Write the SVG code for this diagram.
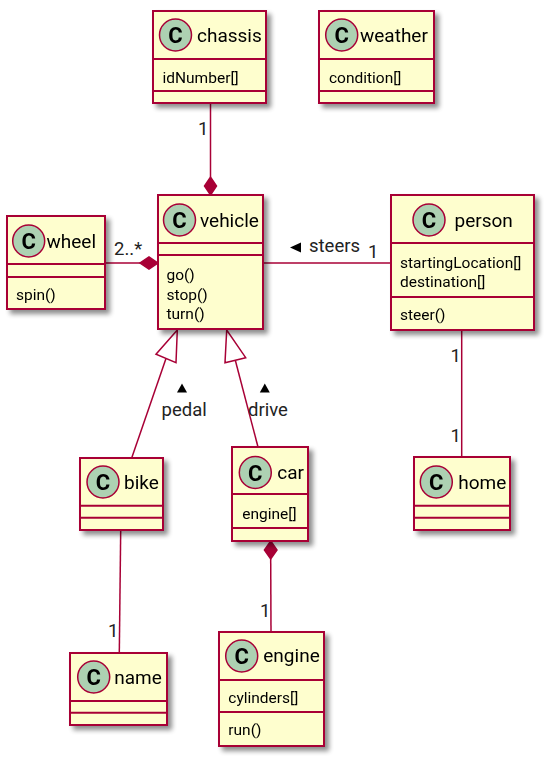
<svg xmlns="http://www.w3.org/2000/svg" width="548" height="760" viewBox="0 0 548 760">
  <style>
    .box { fill: #FEFECE; stroke: #A80036; stroke-width: 2; }
    .sep { stroke: #A80036; stroke-width: 2; }
    .spot { fill: #ADD1B2; stroke: #A80036; stroke-width: 1.5; }
    .spotc { font-family: Roboto, "Liberation Sans", sans-serif; font-size: 22px; font-weight: bold; fill: #000; text-anchor: middle; }
    .name { font-family: Roboto, "Liberation Sans", sans-serif; font-size: 19px; fill: #000; }
    .mem { font-family: Roboto, "Liberation Sans", sans-serif; font-size: 15.5px; fill: #000; }
    .lbl { font-family: Roboto, "Liberation Sans", sans-serif; font-size: 18.5px; fill: #222; }
    .edge { stroke: #A80036; stroke-width: 1.5; fill: none; }
    .diamond { fill: #A80036; stroke: #A80036; stroke-width: 1.5; }
    .hollow { fill: #FFFFFF; stroke: #A80036; stroke-width: 1.5; }
    .dir { fill: #000; }
  </style>
  <defs>
    <filter id="shadow" x="-20%" y="-20%" width="150%" height="150%">
      <feGaussianBlur in="SourceAlpha" stdDeviation="2.5"/>
      <feOffset dx="4" dy="4" result="b"/>
      <feComponentTransfer><feFuncA type="linear" slope="0.45"/></feComponentTransfer>
      <feMerge><feMergeNode/><feMergeNode in="SourceGraphic"/></feMerge>
    </filter>
  </defs>
  <rect width="548" height="760" fill="#FFFFFF"/>

  <!-- connectors -->
  <g id="connectors">
    <!-- chassis composes vehicle -->
    <line class="edge" x1="210.5" y1="103" x2="210.5" y2="177"/>
    <polygon class="diamond" points="210.5,195 216.5,186 210.5,177 204.5,186"/>
    <text class="lbl" x="198" y="135">1</text>
    <!-- wheel composed in vehicle -->
    <line class="edge" x1="105" y1="263" x2="140" y2="263"/>
    <polygon class="diamond" points="158,263 149,257 140,263 149,269"/>
    <text class="lbl" x="114" y="255">2..*</text>
    <!-- person steers vehicle -->
    <line class="edge" x1="263" y1="263" x2="391" y2="263"/>
    <polygon class="dir" points="290,247.5 301,242.5 301,252.5"/>
    <text class="lbl" x="309" y="252">steers</text>
    <text class="lbl" x="368" y="258">1</text>
    <!-- bike extends vehicle -->
    <line class="edge" x1="131.7" y1="458" x2="166" y2="358.5"/>
    <polygon class="hollow" points="177.3,330 156,354.3 176,362.7"/>
    <polygon class="dir" points="182,383.5 187,392.5 177,392.5"/>
    <text class="lbl" x="161.5" y="416">pedal</text>
    <!-- car extends vehicle -->
    <line class="edge" x1="258" y1="447" x2="235.3" y2="360.2"/>
    <polygon class="hollow" points="226.7,330 225,362.7 245.7,357.7"/>
    <polygon class="dir" points="264.8,383.5 269.8,392.5 259.8,392.5"/>
    <text class="lbl" x="248" y="416">drive</text>
    <!-- bike to name -->
    <line class="edge" x1="120.7" y1="530" x2="119.3" y2="653"/>
    <text class="lbl" x="108" y="637">1</text>
    <!-- car composes engine -->
    <polygon class="diamond" points="270.7,541 277,550 270.7,559 264.4,550"/>
    <line class="edge" x1="270.7" y1="559" x2="271" y2="632"/>
    <text class="lbl" x="260" y="617">1</text>
    <!-- person to home -->
    <line class="edge" x1="461.7" y1="330" x2="461.7" y2="457"/>
    <text class="lbl" x="450.5" y="362">1</text>
    <text class="lbl" x="450.5" y="442">1</text>
  </g>

  <!-- classes -->
  <g id="chassis" filter="url(#shadow)">
    <rect class="box" x="153" y="11" width="113" height="92"/>
    <circle class="spot" cx="175.5" cy="35" r="16"/>
    <text class="spotc" x="175.5" y="43">C</text>
    <text class="name" x="197" y="42">chassis</text>
    <line class="sep" x1="153" y1="59" x2="266" y2="59"/>
    <text class="mem" x="162.5" y="83">idNumber[]</text>
    <line class="sep" x1="153" y1="91" x2="266" y2="91"/>
  </g>

  <g id="weather" filter="url(#shadow)">
    <rect class="box" x="319" y="11" width="115" height="92"/>
    <circle class="spot" cx="341.7" cy="35" r="16"/>
    <text class="spotc" x="341.7" y="43">C</text>
    <text class="name" x="360" y="42">weather</text>
    <line class="sep" x1="319" y1="59" x2="434" y2="59"/>
    <text class="mem" x="329" y="83">condition[]</text>
    <line class="sep" x1="319" y1="91" x2="434" y2="91"/>
  </g>

  <g id="wheel" filter="url(#shadow)">
    <rect class="box" x="7" y="216" width="98" height="93"/>
    <circle class="spot" cx="28.7" cy="241" r="16"/>
    <text class="spotc" x="28.7" y="249">C</text>
    <text class="name" x="46.5" y="248">wheel</text>
    <line class="sep" x1="7" y1="264" x2="105" y2="264"/>
    <line class="sep" x1="7" y1="277" x2="105" y2="277"/>
    <text class="mem" x="16" y="299.5">spin()</text>
  </g>

  <g id="vehicle" filter="url(#shadow)">
    <rect class="box" x="158" y="195" width="105" height="134"/>
    <circle class="spot" cx="179.5" cy="220" r="16"/>
    <text class="spotc" x="179.5" y="228">C</text>
    <text class="name" x="200" y="226.5">vehicle</text>
    <line class="sep" x1="158" y1="243" x2="263" y2="243"/>
    <line class="sep" x1="158" y1="255" x2="263" y2="255"/>
    <text class="mem" x="166.5" y="280">go()</text>
    <text class="mem" x="166.5" y="299.5">stop()</text>
    <text class="mem" x="166.5" y="319">turn()</text>
  </g>

  <g id="person" filter="url(#shadow)">
    <rect class="box" x="391" y="195" width="143" height="135"/>
    <circle class="spot" cx="429" cy="220" r="16"/>
    <text class="spotc" x="429" y="228">C</text>
    <text class="name" x="454.5" y="226.5">person</text>
    <line class="sep" x1="391" y1="243" x2="534" y2="243"/>
    <text class="mem" x="400" y="267.5">startingLocation[]</text>
    <text class="mem" x="400" y="287">destination[]</text>
    <line class="sep" x1="391" y1="297" x2="534" y2="297"/>
    <text class="mem" x="400" y="319.5">steer()</text>
  </g>

  <g id="bike" filter="url(#shadow)">
    <rect class="box" x="80" y="458" width="83" height="72"/>
    <circle class="spot" cx="103" cy="482" r="16"/>
    <text class="spotc" x="103" y="490">C</text>
    <text class="name" x="124" y="488.5">bike</text>
    <line class="sep" x1="80" y1="505.7" x2="163" y2="505.7"/>
    <line class="sep" x1="80" y1="517.7" x2="163" y2="517.7"/>
  </g>

  <g id="car" filter="url(#shadow)">
    <rect class="box" x="232" y="447" width="76" height="94"/>
    <circle class="spot" cx="255.3" cy="472.5" r="16"/>
    <text class="spotc" x="255.3" y="480.5">C</text>
    <text class="name" x="277.3" y="478.5">car</text>
    <line class="sep" x1="232" y1="494" x2="308" y2="494"/>
    <text class="mem" x="242.3" y="518.7">engine[]</text>
    <line class="sep" x1="232" y1="528" x2="308" y2="528"/>
  </g>

  <g id="home" filter="url(#shadow)">
    <rect class="box" x="414" y="457" width="96" height="73"/>
    <circle class="spot" cx="436.3" cy="482" r="16"/>
    <text class="spotc" x="436.3" y="490">C</text>
    <text class="name" x="458.3" y="488.5">home</text>
    <line class="sep" x1="414" y1="505.7" x2="510" y2="505.7"/>
    <line class="sep" x1="414" y1="517.7" x2="510" y2="517.7"/>
  </g>

  <g id="name" filter="url(#shadow)">
    <rect class="box" x="70" y="653" width="97" height="72"/>
    <circle class="spot" cx="93.7" cy="677" r="16"/>
    <text class="spotc" x="93.7" y="685">C</text>
    <text class="name" x="114.3" y="683.5">name</text>
    <line class="sep" x1="70" y1="701" x2="167" y2="701"/>
    <line class="sep" x1="70" y1="712.7" x2="167" y2="712.7"/>
  </g>

  <g id="engine" filter="url(#shadow)">
    <rect class="box" x="219" y="632" width="105" height="114"/>
    <circle class="spot" cx="241.7" cy="656" r="16"/>
    <text class="spotc" x="241.7" y="664">C</text>
    <text class="name" x="263.3" y="662">engine</text>
    <line class="sep" x1="219" y1="680" x2="324" y2="680"/>
    <text class="mem" x="228.3" y="702.7">cylinders[]</text>
    <line class="sep" x1="219" y1="712" x2="324" y2="712"/>
    <text class="mem" x="228.3" y="735">run()</text>
  </g>
</svg>
